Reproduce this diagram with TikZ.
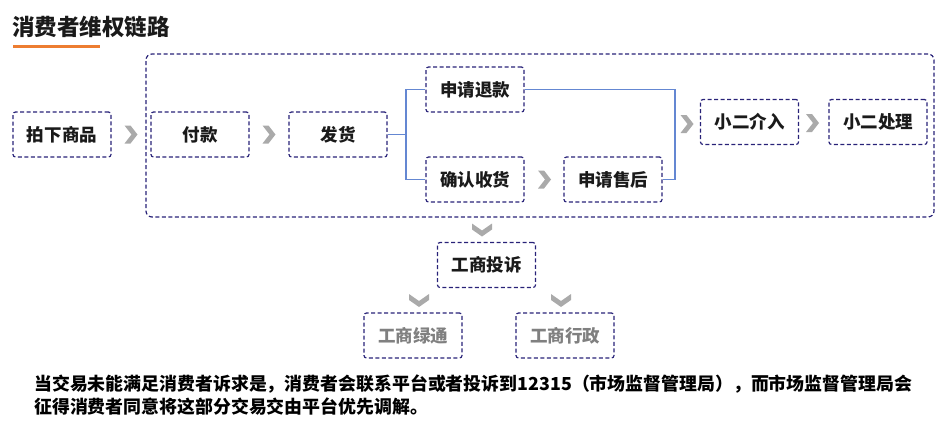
\documentclass[tikz,border=0pt]{standalone}
\usepackage{fontspec}
\setmainfont{Noto Sans CJK SC}
\usetikzlibrary{positioning}
\definecolor{navy}{RGB}{40,34,120}
\definecolor{linkblue}{RGB}{100,135,210}
\definecolor{chev}{RGB}{170,170,170}
\definecolor{txt}{RGB}{26,26,26}
\definecolor{graytxt}{RGB}{128,128,128}
\definecolor{orange}{RGB}{237,125,49}
\tikzset{
  stepbox/.style={draw=navy, line width=1.2pt, dash pattern=on 4pt off 2.5pt,
    rounded corners=2.5pt, minimum width=98pt, minimum height=45pt,
    font=\fontsize{17.5}{20}\selectfont\bfseries, text=txt, inner sep=0pt},
  graybox/.style={stepbox, text=graytxt},
  outerbox/.style={draw=navy, line width=1.2pt, dash pattern=on 4pt off 2.5pt,
    rounded corners=6pt, minimum width=788pt, minimum height=163pt, inner sep=0pt},
  link/.style={draw=linkblue, line width=1.2pt},
  rchev/.pic={\fill[chev] (-6.5,-9) -- (-0.5,-9) -- (6.5,0) -- (-0.5,9) -- (-6.5,9) -- (0.5,0) -- cycle;},
  dchev/.pic={\fill[chev] (-10,-6) -- (-10,0) -- (0,7) -- (10,0) -- (10,-6) -- (0,1) -- cycle;}
}
\begin{document}
\begin{tikzpicture}[x=1pt,y=-1pt]
\useasboundingbox (0,0) rectangle (944,432);
% title
\node[anchor=west, inner sep=0pt, font=\fontsize{22.5}{26}\selectfont\bfseries, text=txt] (title) at (12,27) {消费者维权链路};
\draw[orange, line width=3pt] (13,46) coordinate (ul1) -- (100,46) coordinate (ul2);
% outer
\node[outerbox] (outer) at (540,135.5) {};
% boxes
\node[stepbox] (pxsp) at (62,134.5) {拍下商品};
\node[stepbox] (fk) at (200,134.5) {付款};
\node[stepbox] (fh) at (338,134.5) {发货};
\node[stepbox] (sqtk) at (475,89.5) {申请退款};
\node[stepbox] (qrsh) at (475,179.5) {确认收货};
\node[stepbox] (sqsh) at (613,179.5) {申请售后};
\node[stepbox] (xejr) at (749.5,122) {小二介入};
\node[stepbox] (xecl) at (878,122) {小二处理};
\node[stepbox] (gsts) at (486.5,265) {工商投诉};
\node[graybox] (gslt) at (413,335.5) {工商绿通};
\node[graybox] (gsxz) at (565,335.5) {工商行政};
% chevrons
\pic at (131,134.5) {rchev};
\pic at (269,134.5) {rchev};
\pic at (544.5,179.5) {rchev};
\pic at (687,124) {rchev};
\pic at (812.5,123) {rchev};
\pic at (482,229.5) {dchev};
\pic at (419,300) {dchev};
\pic at (561,300) {dchev};
% links
\coordinate (j1) at (406,134.5);
\draw[link] (fh.east) -- (j1);
\draw[link] (j1) |- (sqtk.west);
\draw[link] (j1) |- (qrsh.west);
\coordinate (j2) at (675,89.5);
\draw[link] (sqtk.east) -- (j2) |- (sqsh.east);
% bottom text
\node[anchor=north west, inner sep=0pt, align=left, font=\fontsize{17.9}{22.5}\selectfont\bfseries, text=black] (note) at (34,375)
{当交易未能满足消费者诉求是，消费者会联系平台或者投诉到12315（市场监督管理局），而市场监督管理局会\\征得消费者同意将这部分交易交由平台优先调解。};
\end{tikzpicture}
\end{document}
